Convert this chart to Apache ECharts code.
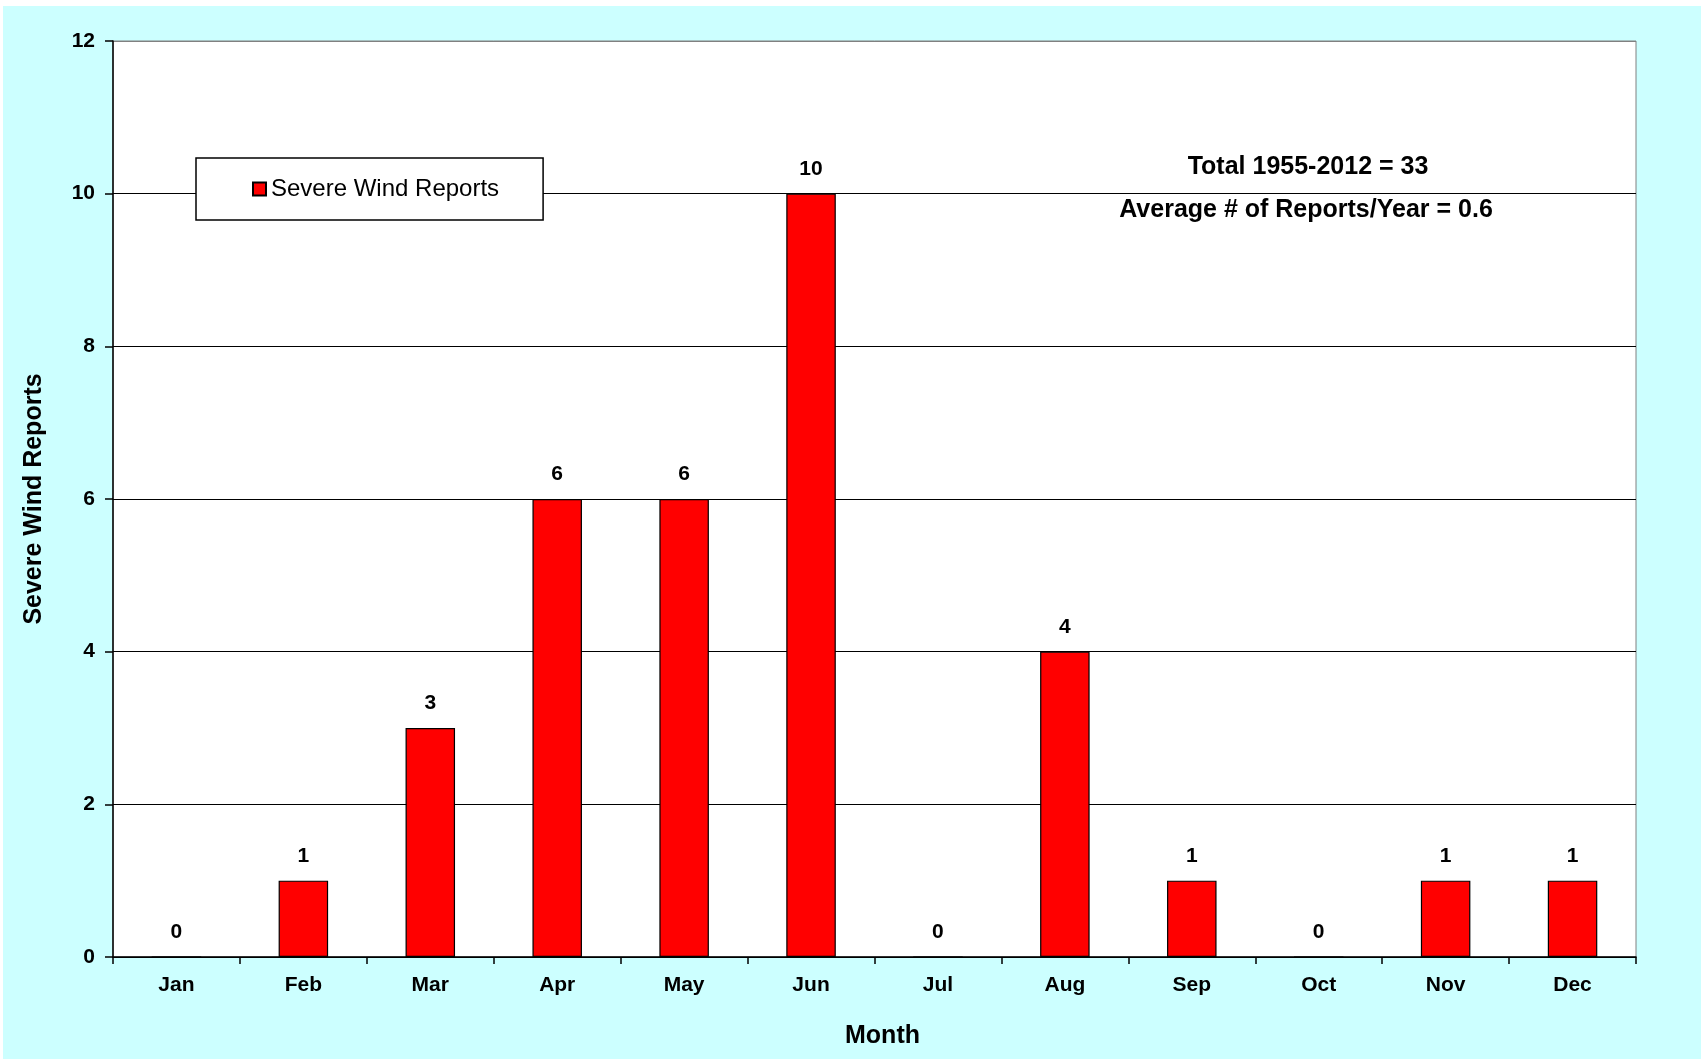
<!DOCTYPE html>
<html>
<head>
<meta charset="utf-8">
<script src="https://cdn.jsdelivr.net/npm/echarts@6/dist/echarts.min.js"></script>
<style>
  html, body { margin: 0; padding: 0; background: #ffffff; }
  #chart { position: absolute; left: 3px; top: 6px; width: 1698px; height: 1053px; }
</style>
</head>
<body>
<div id="chart"></div>
<script>
const months = ['Jan', 'Feb', 'Mar', 'Apr', 'May', 'Jun', 'Jul', 'Aug', 'Sep', 'Oct', 'Nov', 'Dec']
const windReports = [0, 1, 3, 6, 6, 10, 0, 4, 1, 0, 1, 1]
const seriesName = 'Severe Wind Reports'
const noteLines = ['Total 1955-2012 = 33', 'Average # of Reports/Year = 0.6']

const font = 'Arial, "Liberation Sans", sans-serif'
const chart = echarts.init(document.getElementById('chart'))

chart.setOption({
  backgroundColor: '#ccffff',
  animation: false,
  textStyle: { fontFamily: font, color: '#000' },
  grid: {
    left: 110,
    top: 35,
    right: 65,
    bottom: 102,
    show: true,
    backgroundColor: '#ffffff',
    borderColor: '#808080',
    borderWidth: 1
  },
  legend: {
    data: [seriesName],
    left: 193,
    top: 152,
    padding: [19, 44, 19, 56],
    backgroundColor: '#ffffff',
    borderColor: '#000',
    borderWidth: 1.5,
    icon: 'rect',
    itemWidth: 13,
    itemHeight: 13,
    itemGap: 4,
    textStyle: { fontSize: 24, color: '#000', fontFamily: font }
  },
  xAxis: {
    type: 'category',
    data: months,
    name: 'Month',
    nameLocation: 'middle',
    nameGap: 67,
    nameTextStyle: { fontSize: 25, fontWeight: 'bold', color: '#000', padding: [0, 0, 0, 16] },
    axisLine: { lineStyle: { color: '#000', width: 1.5 } },
    axisTick: { show: true, length: 7, lineStyle: { color: '#000', width: 1.5 } },
    axisLabel: { fontSize: 21, fontWeight: 'bold', color: '#000', margin: 18 }
  },
  yAxis: {
    type: 'value',
    min: 0,
    max: 12,
    interval: 2,
    name: 'Severe Wind Reports',
    nameLocation: 'middle',
    nameGap: 66,
    nameTextStyle: { fontSize: 25, fontWeight: 'bold', color: '#000' },
    axisLine: { show: true, lineStyle: { color: '#000', width: 1.5 } },
    axisTick: { show: true, length: 8, lineStyle: { color: '#000', width: 1.5 } },
    axisLabel: { fontSize: 21, fontWeight: 'bold', color: '#000', margin: 18 },
    splitLine: {
      lineStyle: {
        color: ['#000', '#000', '#000', '#000', '#000', '#000', '#808080'],
        width: 1.2
      }
    }
  },
  series: [
    {
      name: seriesName,
      type: 'bar',
      data: windReports,
      barWidth: '39%',
      itemStyle: { color: '#ff0000', borderColor: '#000', borderWidth: 1.2 },
      label: {
        show: true,
        position: 'top',
        distance: 14,
        fontSize: 21,
        fontWeight: 'bold',
        color: '#000'
      }
    }
  ],
  graphic: [
    {
      type: 'text',
      x: 1305,
      y: 161,
      style: {
        text: noteLines[0],
        font: 'bold 25px ' + font,
        fill: '#000',
        align: 'center',
        verticalAlign: 'middle'
      }
    },
    {
      type: 'text',
      x: 1303,
      y: 204,
      style: {
        text: noteLines[1],
        font: 'bold 25px ' + font,
        fill: '#000',
        align: 'center',
        verticalAlign: 'middle'
      }
    }
  ]
})

window.addEventListener('resize', () => chart.resize())
</script>
</body>
</html>
